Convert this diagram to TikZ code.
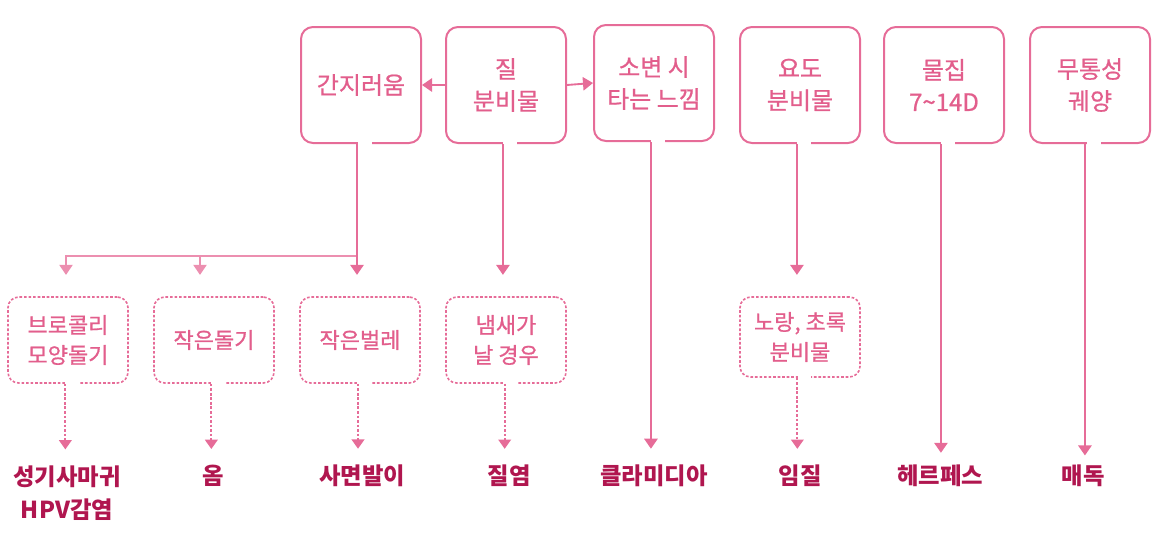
\documentclass[tikz,border=0pt]{standalone}
\usepackage{fontspec}
\setmainfont{Noto Sans CJK KR}
\newfontfamily\medfont[FakeBold=0.8]{Noto Sans CJK KR}
\usetikzlibrary{arrows.meta,positioning}
\definecolor{Rose}{HTML}{E66C98}
\definecolor{RoseLight}{HTML}{EC8FB0}
\definecolor{RoseText}{HTML}{E25E8C}
\definecolor{Wine}{HTML}{B0164F}
\tikzset{
  symbox/.style={draw=Rose, line width=1.5pt, rounded corners=9pt,
    minimum width=90pt, minimum height=87pt, align=center,
    font=\medfont\fontsize{18}{24}\selectfont, text=RoseText},
  signbox/.style={draw=Rose, line width=1.2pt, dash pattern=on 2pt off 1.4pt,
    rounded corners=8pt, minimum width=90pt, minimum height=64.5pt,
    align=center, font=\medfont\fontsize{16.5}{22.5}\selectfont, text=RoseText},
  dxlabel/.style={inner sep=1pt, align=center, text=Wine,
    font=\fontsize{17.5}{24.7}\selectfont\bfseries},
  solidarr/.style={-{Triangle[length=7.5pt,width=10pt]}, line width=1.4pt, draw=Rose, fill=Rose},
  forkarr/.style={-{Triangle[length=7.5pt,width=10pt]}, line width=1pt, draw=RoseLight},
  dasharr/.style={-{Triangle[length=7pt,width=9.5pt]}, line width=1.4pt, draw=Rose,
    dash pattern=on 2pt off 1.4pt},
  gapline/.style={white, line width=3pt},
}
\begin{document}
\begin{tikzpicture}[x=0.75pt,y=-0.75pt]
\useasboundingbox (0,0) rectangle (1160,550);

% symptoms
\node[symbox] (itch) at (361,85) {간지러움};
\node[symbox] (disch) at (506,85) {질\\분비물};
\node[symbox] (burn) at (654,83) {소변 시\\타는 느낌};
\node[symbox] (ureth) at (800,85) {요도\\분비물};
\node[symbox] (blist) at (944,85) {물집\\7\textasciitilde14D};
\node[symbox] (ulcer) at (1090,85) {무통성\\궤양};

% signs
\node[signbox] (brocc) at (68,340) {브로콜리\\모양돌기};
\node[signbox] (bump) at (214,340) {작은돌기};
\node[signbox] (bug) at (360,340) {작은벌레};
\node[signbox] (smell) at (506,340) {냄새가\\날 경우};
\node[signbox, minimum height=60pt] (yell) at (800,337) {노랑, 초록\\분비물};

% diseases
\node[dxlabel] (hpv) at (67,493) {성기사마귀\\HPV감염};
\node[dxlabel] (scab) at (213,476) {옴};
\node[dxlabel] (lice) at (362,476) {사면발이};
\node[dxlabel] (vagi) at (509,476) {질염};
\node[dxlabel] (chla) at (654,476) {클라미디아};
\node[dxlabel] (gono) at (800,476) {임질};
\node[dxlabel] (herp) at (940,476) {헤르페스};
\node[dxlabel] (syph) at (1083,476) {매독};

% bubble tails
\foreach \n in {itch,disch,burn,ureth,blist,ulcer}
  \draw[gapline] ([xshift=-2pt]\n.south) -- ([xshift=8.5pt]\n.south);
\foreach \n in {brocc,bump,bug,smell,yell}
  \draw[gapline] ([xshift=-1.2pt]\n.south) -- ([xshift=8.5pt]\n.south);

\coordinate (itchout) at ([xshift=-3pt]itch.south);
\path (itchout) ++(0,112) coordinate (fork);

% arrows from the symptoms
\draw[solidarr] (disch.west) -- (itch.east);
\draw[solidarr] (disch.east) -- (burn.west);
\draw[forkarr, shorten >=16pt] (fork) -| ([xshift=-1.5pt]brocc.north);
\draw[forkarr, shorten >=16pt] (fork) -| ([xshift=-10.5pt]bump.north);
\draw[solidarr, shorten >=16pt] (itchout) -- (itchout |- bug.north);
\draw[solidarr, shorten >=16pt] ([xshift=-2.3pt]disch.south) -- ([xshift=-2.3pt]disch.south |- smell.north);
\draw[solidarr, shorten >=11pt] ([xshift=-2.3pt]burn.south) -- ([xshift=-2.3pt]burn.south |- chla.north);
\draw[solidarr, shorten >=16pt] ([xshift=-2.3pt]ureth.south) -- ([xshift=-2.3pt]ureth.south |- yell.north);
\draw[solidarr, shorten >=8pt] ([xshift=-2.3pt]blist.south) -- ([xshift=-2.3pt]blist.south |- herp.north);
\draw[solidarr, shorten >=6pt] ([xshift=-3.8pt]ulcer.south) -- ([xshift=-3.8pt]ulcer.south |- syph.north);

% arrows from the signs
\draw[dasharr, shorten >=11pt] ([xshift=-2pt]brocc.south) -- ([xshift=-2pt]brocc.south |- hpv.north);
\draw[dasharr, shorten >=11pt] ([xshift=-2pt]bump.south) -- ([xshift=-2pt]bump.south |- scab.north);
\draw[dasharr, shorten >=11pt] ([xshift=-1.5pt]bug.south) -- ([xshift=-1.5pt]bug.south |- lice.north);
\draw[dasharr, shorten >=11pt] ([xshift=-1pt]smell.south) -- ([xshift=-1pt]smell.south |- vagi.north);
\draw[dasharr, shorten >=11pt] ([xshift=-2pt]yell.south) -- ([xshift=-2pt]yell.south |- gono.north);
\end{tikzpicture}
\end{document}
